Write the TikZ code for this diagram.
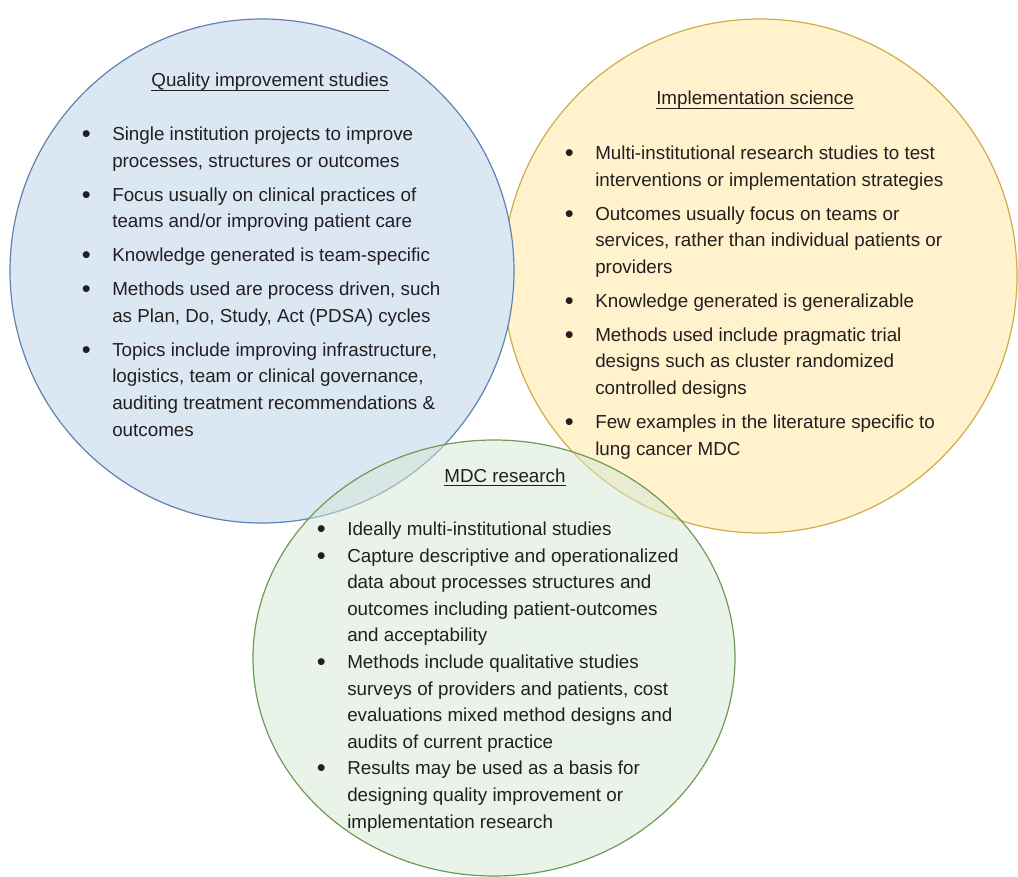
\documentclass[tikz,border=0pt]{standalone}
\usepackage{fontspec}
\setmainfont{Liberation Sans}
\usepackage{tikz}
\usetikzlibrary{shapes.geometric}
\usepackage{xcolor}
\definecolor{QIBlue}{HTML}{DCE7F4}
\definecolor{QIBlueLine}{HTML}{5F82B3}
\definecolor{ISYellow}{HTML}{FFF2CC}
\definecolor{ISYellowLine}{HTML}{CDAE48}
\definecolor{MDCGreen}{HTML}{D5E8D4}
\definecolor{MDCGreenLine}{HTML}{6F9A55}
\definecolor{TextGray}{HTML}{231F20}
\newlength{\hdwidth}
\newcommand{\uheading}[1]{\settowidth{\hdwidth}{#1}\rlap{\rule[-4pt]{\hdwidth}{0.9pt}}#1}
\newcommand{\bul}{\raisebox{-2pt}{\scalebox{1.35}{\textbullet}}}
\newenvironment{vennlist}{\begin{tabular}[t]{@{}c@{\hspace{21.5pt}}l@{}}}{\end{tabular}}
\tikzset{
    % Set shapes
    venn/.style={
        draw,
        line width=1.2pt,
        inner sep=0pt
    },
    qiset/.style={
        circle,
        venn,
        draw=QIBlueLine,
        fill=QIBlue,
        minimum size=504pt
    },
    isset/.style={
        circle,
        venn,
        draw=ISYellowLine,
        fill=ISYellow,
        minimum size=514pt
    },
    mdcset/.style={
        ellipse,
        venn,
        draw=MDCGreenLine,
        fill=MDCGreen,
        fill opacity=0.5,
        minimum width=482pt,
        minimum height=436pt
    },
    % Text styles
    heading/.style={
        anchor=base,
        inner sep=0pt,
        text=TextGray,
        font=\fontsize{18.8}{26.6}\selectfont
    },
    itemlist/.style={
        anchor=base west,
        inner sep=0pt,
        align=left,
        text=TextGray,
        font=\fontsize{18.8}{26.6}\selectfont
    }
}
\begin{document}
\begin{tikzpicture}[x=1pt, y=-1pt]
    \useasboundingbox (0,0) rectangle (1018,877);

    % Circles
    \node[isset] (iscircle) at (760,276) {};
    \node[qiset] (qicircle) at (262,271) {};
    \node[mdcset] (mdccircle) at (494,658) {};

    % Quality improvement
    \node[heading] (qititle) at (270,87) {\uheading{Quality improvement studies}};
    \node[itemlist] (qilist) at (81.7,140.5) {\begin{vennlist}
        \bul & Single institution projects to improve \\
             & processes, structures or outcomes \\[7.4pt]
        \bul & Focus usually on clinical practices of \\
             & teams and/or improving patient care \\[7.4pt]
        \bul & Knowledge generated is team-specific \\[7.4pt]
        \bul & Methods used are process driven, such \\
             & as Plan, Do, Study, Act (PDSA) cycles \\[7.4pt]
        \bul & Topics include improving infrastructure, \\
             & logistics, team or clinical governance, \\
             & auditing treatment recommendations \& \\
             & outcomes
    \end{vennlist}};

    % Implementation science
    \node[heading] (istitle) at (755,105) {\uheading{Implementation science}};
    \node[itemlist] (islist) at (564.7,159.5) {\begin{vennlist}
        \bul & Multi-institutional research studies to test \\
             & interventions or implementation strategies \\[7.4pt]
        \bul & Outcomes usually focus on teams or \\
             & services, rather than individual patients or \\
             & providers \\[7.4pt]
        \bul & Knowledge generated is generalizable \\[7.4pt]
        \bul & Methods used include pragmatic trial \\
             & designs such as cluster randomized \\
             & controlled designs \\[7.4pt]
        \bul & Few examples in the literature specific to \\
             & lung cancer MDC
    \end{vennlist}};

    % MDC research
    \node[heading] (mdctitle) at (505,482) {\uheading{MDC research}};
    \node[itemlist] (mdclist) at (316.7,535.5) {\begin{vennlist}
        \bul & Ideally multi-institutional studies \\
        \bul & Capture descriptive and operationalized \\
             & data about processes structures and \\
             & outcomes including patient-outcomes \\
             & and acceptability \\
        \bul & Methods include qualitative studies \\
             & surveys of providers and patients, cost \\
             & evaluations mixed method designs and \\
             & audits of current practice \\
        \bul & Results may be used as a basis for \\
             & designing quality improvement or \\
             & implementation research
    \end{vennlist}};
\end{tikzpicture}
\end{document}
